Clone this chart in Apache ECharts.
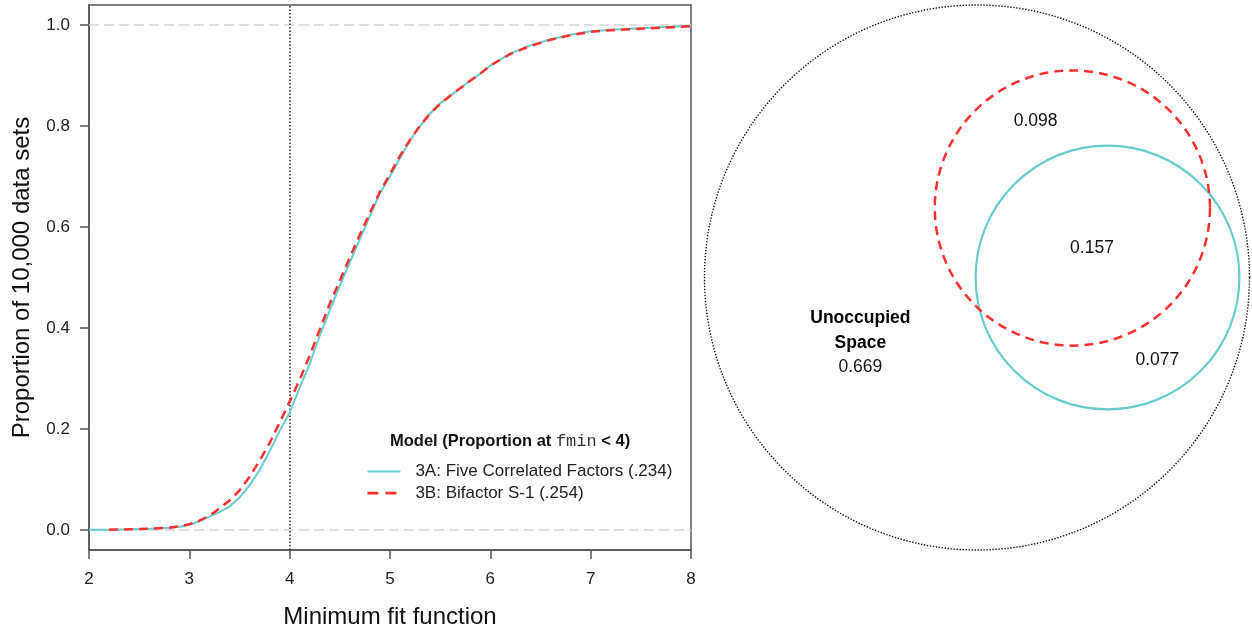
<!DOCTYPE html>
<html>
<head>
<meta charset="utf-8">
<script src="https://cdn.jsdelivr.net/npm/echarts@6/dist/echarts.min.js"></script>
<style>
  html, body { margin: 0; padding: 0; background: #ffffff; }
  #chart { width: 1252px; height: 634px; }
</style>
</head>
<body>
<div id="chart"></div>
<script>
// ---------- Data ----------
const fitX = [2.0, 2.2, 2.4, 2.6, 2.8, 2.9, 3.0, 3.1, 3.2, 3.3, 3.4, 3.5, 3.6, 3.7, 3.8, 3.9,
  4.0, 4.1, 4.2, 4.3, 4.4, 4.5, 4.6, 4.7, 4.8, 4.9, 5.0, 5.1, 5.2, 5.3, 5.4, 5.5, 5.6, 5.7,
  5.8, 5.9, 6.0, 6.2, 6.4, 6.6, 6.8, 7.0, 7.2, 7.4, 7.6, 7.8, 8.0];
const model3A = [0.000, 0.000, 0.001, 0.002, 0.004, 0.006, 0.010, 0.017, 0.026, 0.035, 0.046,
  0.064, 0.088, 0.118, 0.155, 0.196, 0.232, 0.282, 0.329, 0.385, 0.435, 0.484, 0.530, 0.576,
  0.622, 0.667, 0.700, 0.737, 0.772, 0.800, 0.825, 0.845, 0.860, 0.875, 0.890, 0.904, 0.920,
  0.944, 0.960, 0.972, 0.981, 0.988, 0.991, 0.993, 0.995, 0.997, 0.999];
const model3B = [null, 0.000, 0.001, 0.002, 0.004, 0.007, 0.011, 0.018, 0.028, 0.042, 0.058,
  0.078, 0.105, 0.137, 0.172, 0.212, 0.254, 0.298, 0.345, 0.397, 0.448, 0.494, 0.540, 0.585,
  0.628, 0.670, 0.705, 0.741, 0.773, 0.801, 0.825, 0.844, 0.860, 0.875, 0.890, 0.904, 0.920,
  0.943, 0.959, 0.971, 0.980, 0.987, 0.990, 0.992, 0.994, 0.996, 0.998];
const seriesNames = ['3A: Five Correlated Factors (.234)', '3B: Bifactor S-1 (.254)'];
const xTicks = [2, 3, 4, 5, 6, 7, 8];
const yTicks = [0, 0.2, 0.4, 0.6, 0.8, 1.0];
const cutoff = 4;

// Venn circles: [centerX, centerY, radius] in units of the outer circle radius
const outerCircle = [[0, 0, 1]];
const circle3B = [[0.350, 0.255, 0.505]];
const circle3A = [[0.479, 0.000, 0.484]];
// Venn region labels: [x, y, text]
const vennLabels = [
  [0.215, 0.572, '0.098'],
  [0.422, 0.108, '0.157'],
  [0.662, -0.305, '0.077']
];
const unoccupied = [[-0.428, -0.236, 'Unoccupied', 'Space', '0.669']];

// ---------- Chart ----------
const TEAL = '#66cccc';
const RED = '#ff3030';
const FONT = '"Liberation Sans", Arial, sans-serif';
const chart = echarts.init(document.getElementById('chart'), null, { renderer: 'canvas' });

function circleItem(color, width, dash) {
  return function (params, api) {
    const c = api.coord([api.value(0), api.value(1)]);
    const r = api.size([api.value(2), 0])[0];
    return {
      type: 'circle',
      shape: { cx: c[0], cy: c[1], r: r },
      style: { fill: 'none', stroke: color, lineWidth: width, lineDash: dash }
    };
  };
}

const option = {
  animation: false,
  backgroundColor: '#ffffff',
  textStyle: { fontFamily: FONT },
  grid: [
    { left: 89, top: 5, width: 602, height: 545, show: true, borderColor: '#555', borderWidth: 1.5, backgroundColor: 'transparent' },
    { left: 704.5, top: 5, width: 545, height: 545, show: false }
  ],
  xAxis: [
    {
      type: 'value', gridIndex: 0, min: 2, max: 8, interval: 1,
      name: 'Minimum fit function', nameLocation: 'middle', nameGap: 55,
      nameTextStyle: { fontSize: 24, color: '#111', fontFamily: FONT },
      axisLine: { show: true, onZero: false, lineStyle: { color: '#555', width: 1.5 } },
      axisTick: { show: true, inside: false, length: 9, lineStyle: { color: '#555', width: 1.5 } },
      axisLabel: { margin: 21, fontSize: 17, color: '#222', fontFamily: FONT,
        customValues: xTicks, formatter: v => String(v) },
      splitLine: { show: false }
    },
    { type: 'value', gridIndex: 1, min: -1, max: 1, show: false }
  ],
  yAxis: [
    {
      type: 'value', gridIndex: 0, min: -0.04, max: 1.04,
      name: 'Proportion of 10,000 data sets', nameLocation: 'middle', nameGap: 55, nameRotate: 90,
      nameTextStyle: { fontSize: 24, color: '#111', fontFamily: FONT },
      axisLine: { show: true, onZero: false, lineStyle: { color: '#555', width: 1.5 } },
      axisTick: { show: true, inside: false, length: 9, customValues: yTicks, lineStyle: { color: '#555', width: 1.5 } },
      axisLabel: { margin: 19, fontSize: 17, color: '#222', fontFamily: FONT,
        customValues: yTicks, formatter: v => v.toFixed(1) },
      splitLine: { show: false }
    },
    { type: 'value', gridIndex: 1, min: -1, max: 1, show: false }
  ],
  legend: {
    orient: 'vertical', left: 366, top: 461.5, padding: 0,
    itemWidth: 33, itemHeight: 14, itemGap: 1.6,
    data: [
      { name: seriesNames[0], lineStyle: { color: TEAL, width: 2, type: 'solid' } },
      { name: seriesNames[1], lineStyle: { color: RED, width: 2.8, type: [11, 7] } }
    ],
    itemStyle: { opacity: 0 },
    textStyle: { fontSize: 17, color: '#222', fontFamily: FONT, lineHeight: 20, padding: [0, 0, 0, 10] }
  },
  graphic: [
    {
      type: 'text', left: 390, top: 433,
      style: {
        text: '{b|Model (Proportion at }{m|fmin}{b| < 4)}',
        rich: {
          b: { fontSize: 16.5, fontWeight: 'bold', fill: '#111', fontFamily: FONT },
          m: { fontSize: 17, fill: '#333', fontFamily: '"Liberation Mono", "DejaVu Sans Mono", monospace' }
        }
      }
    }
  ],
  series: [
    {
      name: seriesNames[0], type: 'line', xAxisIndex: 0, yAxisIndex: 0,
      data: fitX.map((x, i) => [x, model3A[i]]),
      symbol: 'none', smooth: false, color: TEAL,
      lineStyle: { color: TEAL, width: 2 },
      z: 3,
      markLine: {
        silent: true, symbol: 'none', label: { show: false }, z: 1,
        data: [
          { yAxis: 0, lineStyle: { color: '#d4d4d4', width: 1.5, type: [10, 5] } },
          { yAxis: 1, lineStyle: { color: '#d4d4d4', width: 1.5, type: [10, 5] } },
          { xAxis: cutoff, lineStyle: { color: '#222', width: 1.5, type: [1.5, 2] } }
        ]
      }
    },
    {
      name: seriesNames[1], type: 'line', xAxisIndex: 0, yAxisIndex: 0,
      data: fitX.map((x, i) => [x, model3B[i]]),
      symbol: 'none', smooth: false, color: RED, connectNulls: false,
      lineStyle: { color: RED, width: 2.5, type: [9, 6] },
      z: 4
    },
    {
      type: 'custom', xAxisIndex: 1, yAxisIndex: 1, data: outerCircle, silent: true,
      renderItem: circleItem('#111', 1.4, [1.4, 1.6])
    },
    {
      type: 'custom', xAxisIndex: 1, yAxisIndex: 1, data: circle3A, silent: true,
      renderItem: circleItem(TEAL, 2.2, null)
    },
    {
      type: 'custom', xAxisIndex: 1, yAxisIndex: 1, data: circle3B, silent: true,
      renderItem: circleItem(RED, 2.5, [9, 6])
    },
    {
      type: 'scatter', xAxisIndex: 1, yAxisIndex: 1, data: vennLabels, symbolSize: 0, silent: true,
      itemStyle: { opacity: 1 },
      label: { show: true, position: 'inside', formatter: p => p.value[2],
        fontSize: 17.5, color: '#111', fontFamily: FONT, textBorderWidth: 0, opacity: 1 }
    },
    {
      type: 'scatter', xAxisIndex: 1, yAxisIndex: 1, data: unoccupied, symbolSize: 0, silent: true,
      itemStyle: { opacity: 1 },
      label: { show: true, position: 'inside', align: 'center', textBorderWidth: 0, opacity: 1,
        formatter: p => '{b|' + p.value[2] + '}\n{b|' + p.value[3] + '}\n{n|' + p.value[4] + '}',
        rich: {
          b: { fontSize: 17.5, fontWeight: 'bold', color: '#000', fontFamily: FONT, lineHeight: 25, align: 'center', textBorderWidth: 0 },
          n: { fontSize: 17.5, color: '#111', fontFamily: FONT, lineHeight: 23, align: 'center', textBorderWidth: 0 }
        }
      }
    }
  ]
};
chart.setOption(option);
</script>
</body>
</html>
